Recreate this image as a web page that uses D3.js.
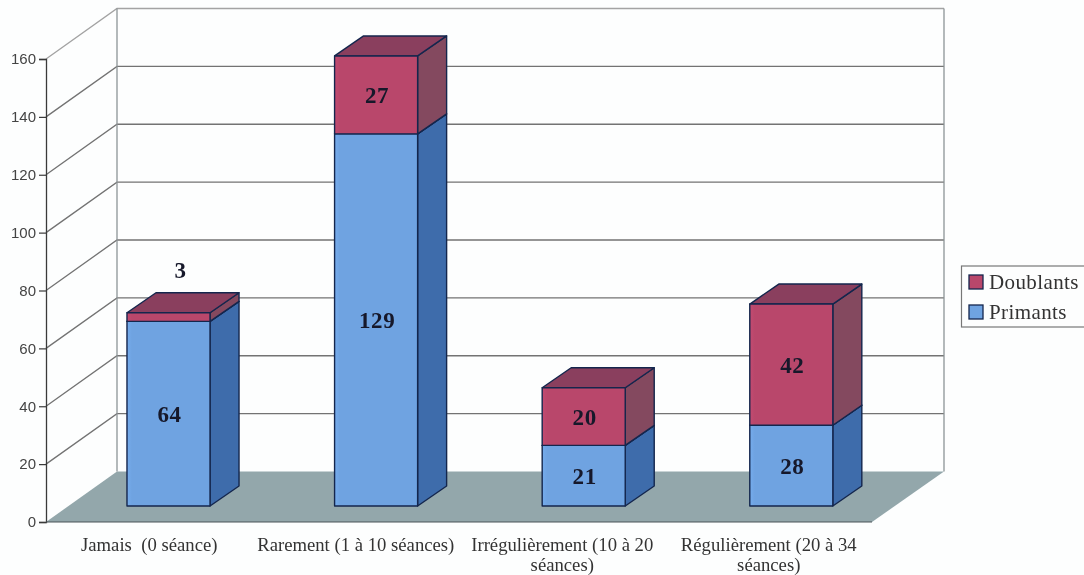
<!DOCTYPE html>
<html>
<head>
<meta charset="utf-8">
<script src="https://cdn.jsdelivr.net/npm/d3@7"></script>
<style>
  body { margin: 0; background: #fdfefe; }
  svg { display: block; filter: blur(0.5px); }
</style>
</head>
<body>
<svg width="1084" height="575"></svg>
<script>
const categories = ['Jamais  (0 séance)', 'Rarement (1 à 10 séances)', 'Irrégulièrement (10 à 20 séances)', 'Régulièrement (20 à 34 séances)'];
const categoryLines = [['Jamais  (0 séance)'], ['Rarement (1 à 10 séances)'], ['Irrégulièrement (10 à 20', 'séances)'], ['Régulièrement (20 à 34', 'séances)']];
const primants = [64, 129, 21, 28];
const doublants = [3, 27, 20, 42];
const seriesNames = ['Primants', 'Doublants'];
const yTicks = [0, 20, 40, 60, 80, 100, 120, 140, 160];

const svg = d3.select('svg');

const wall = {dx: 71, dy: -50.5};
const box = {dx: 29, dy: -20};

const yScale = d3.scaleLinear().domain([0, 160]).range([522, 59]);
const xAxisScale = d3.scaleBand().domain(categories).range([46, 872]);
// bars sit a bit further back than the axis plane
const barY = d3.scaleLinear().domain([0, 160]).range([506, 44.4]);
const barX = d3.scaleBand().domain(categories)
    .range([64.7, 895.1]).paddingInner(0.6).paddingOuter(0.3);

const colors = {
    Primants: {front: '#6fa3e1', side: '#3e6cab', top: '#4f7fc0', swatch: '#6fa3e1'},
    Doublants: {front: '#b9476b', side: '#84495f', top: '#8a3f5e', swatch: '#b9476b'}
};

const pts = a => a.map(p => p.join(',')).join(' ');

const defs = svg.append('defs');
['Primants', 'Doublants'].forEach(name => {
    const grad = defs.append('linearGradient').attr('id', 'front' + name);
    grad.append('stop').attr('offset', '0').attr('stop-color', d3.color(colors[name].front).brighter(0.15));
    grad.append('stop').attr('offset', '0.06').attr('stop-color', colors[name].front);
    grad.append('stop').attr('offset', '1').attr('stop-color', colors[name].front);
});

// floor
const x0 = xAxisScale.range()[0], x1 = xAxisScale.range()[1];
svg.append('polygon')
    .attr('points', pts([[x0, yScale(0)], [x0 + wall.dx, yScale(0) + wall.dy], [x1 + wall.dx + 1, yScale(0) + wall.dy], [x1, yScale(0)]]))
    .attr('fill', '#93a7ab');

// walls
const grid = svg.append('g').attr('fill', 'none');
grid.selectAll('polyline').data(yTicks.slice(1)).enter().append('polyline')
    .attr('points', d => pts([[x0, yScale(d)], [x0 + wall.dx, yScale(d) + wall.dy], [x1 + wall.dx + 1, yScale(d) + wall.dy]]))
    .attr('stroke', d => d == 160 ? '#a3a3a3' : '#737373')
    .attr('stroke-width', 1.3);
grid.append('line')
    .attr('x1', x0 + wall.dx).attr('x2', x0 + wall.dx)
    .attr('y1', yScale(160) + wall.dy).attr('y2', yScale(0) + wall.dy)
    .attr('stroke', '#8d9496').attr('stroke-width', 1.3);
grid.append('line')
    .attr('x1', x1 + wall.dx + 1).attr('x2', x1 + wall.dx + 1)
    .attr('y1', yScale(160) + wall.dy).attr('y2', yScale(0) + wall.dy)
    .attr('stroke', '#8d9496').attr('stroke-width', 1.3);

// bars
const table = categories.map((c, i) => ({category: c, Primants: primants[i], Doublants: doublants[i]}));
const stacked = d3.stack().keys(seriesNames)(table);

const layers = svg.selectAll('g.layer').data(stacked).enter().append('g')
    .attr('class', 'layer')
    .attr('stroke', '#14264d')
    .attr('stroke-width', 1.4)
    .attr('stroke-linejoin', 'round');

const bars = layers.selectAll('g').data(d => d.map(v => ({name: d.key, low: v[0], high: v[1], category: v.data.category})))
    .enter().append('g');

bars.append('polygon')
    .attr('points', d => {
        const r = barX(d.category) + barX.bandwidth();
        return pts([[r, barY(d.low)], [r + box.dx, barY(d.low) + box.dy], [r + box.dx, barY(d.high) + box.dy], [r, barY(d.high)]]);
    })
    .attr('fill', d => colors[d.name].side);

bars.append('polygon')
    .attr('points', d => {
        const l = barX(d.category), r = l + barX.bandwidth();
        return pts([[l, barY(d.high)], [r, barY(d.high)], [r + box.dx, barY(d.high) + box.dy], [l + box.dx, barY(d.high) + box.dy]]);
    })
    .attr('fill', d => colors[d.name].top);

bars.append('rect')
    .attr('x', d => barX(d.category))
    .attr('y', d => barY(d.high))
    .attr('width', barX.bandwidth())
    .attr('height', d => barY(d.low) - barY(d.high))
    .attr('fill', d => 'url(#front' + d.name + ')');

// value labels, the 3 does not fit so it goes above its bar
bars.append('text')
    .attr('x', d => barX(d.category) + barX.bandwidth() / 2 + (d.high - d.low < 5 ? 12 : 1))
    .attr('y', d => d.high - d.low < 5 ? barY(d.high) - 43 : barY((d.low + d.high) / 2))
    .attr('dy', '0.35em')
    .attr('text-anchor', 'middle')
    .attr('stroke', 'none')
    .attr('fill', '#16182a')
    .attr('font-family', '"Liberation Serif", serif')
    .attr('font-weight', 'bold')
    .attr('font-size', '23px')
    .attr('letter-spacing', '0.6px')
    .text(d => d.high - d.low);

// y axis
const yAxis = svg.append('g')
    .attr('transform', `translate(${x0},0)`)
    .call(d3.axisLeft(yScale).tickValues(yTicks).tickSize(7).tickPadding(3));
yAxis.select('.domain').attr('stroke', '#3a3a3a').attr('stroke-width', 1.3);
yAxis.selectAll('.tick line').attr('stroke', '#3a3a3a').attr('stroke-width', 1.2);
yAxis.selectAll('text')
    .attr('font-family', '"Liberation Sans", sans-serif')
    .attr('font-size', '15px')
    .attr('fill', '#444');

// front edge of the floor
svg.append('line')
    .attr('x1', x0).attr('x2', x1)
    .attr('y1', yScale(0)).attr('y2', yScale(0))
    .attr('stroke', '#4a5558').attr('stroke-width', 1.2);

// x labels
const xAxis = svg.append('g')
    .attr('transform', `translate(0,${yScale(0)})`)
    .call(d3.axisBottom(xAxisScale).tickSize(0));
xAxis.select('.domain').remove();
xAxis.selectAll('text').each(function(d, i) {
    const t = d3.select(this).text(null).attr('y', 0).attr('dy', null);
    categoryLines[i].forEach((line, k) => {
        t.append('tspan').attr('x', 0).attr('y', 29 + k * 20).text(line);
    });
})
    .attr('font-family', '"Liberation Serif", serif')
    .attr('font-size', '18.7px')
    .attr('fill', '#333')
    .style('white-space', 'pre');

// legend
const legend = svg.append('g');
legend.append('rect')
    .attr('x', 961.5).attr('y', 266).attr('width', 130).attr('height', 61)
    .attr('fill', '#fdfefe').attr('stroke', '#777').attr('stroke-width', 1.2);
const legendRows = legend.selectAll('g').data(['Doublants', 'Primants']).enter().append('g')
    .attr('transform', (d, i) => `translate(969,${275 + i * 30})`);
legendRows.append('rect')
    .attr('width', 14).attr('height', 14)
    .attr('fill', d => colors[d].swatch)
    .attr('stroke', '#14264d').attr('stroke-width', 1.3);
legendRows.append('text')
    .attr('x', 20).attr('y', 14)
    .attr('font-family', '"Liberation Serif", serif')
    .attr('font-size', '21px')
    .attr('letter-spacing', '0.4px')
    .attr('fill', '#333')
    .text(d => d);
</script>
</body>
</html>
